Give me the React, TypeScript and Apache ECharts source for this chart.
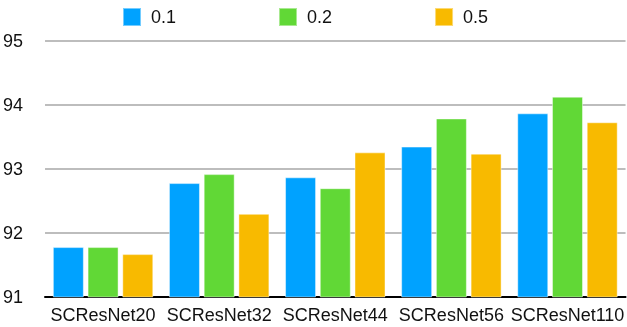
import React, { useEffect, useRef } from "react";
import * as echarts from "echarts";

const categories = ["SCResNet20", "SCResNet32", "SCResNet44", "SCResNet56", "SCResNet110"];
const seriesNames = ["0.1", "0.2", "0.5"];
const values01 = [91.78, 92.78, 92.87, 93.35, 93.87];
const values02 = [91.78, 92.92, 92.70, 93.79, 94.13];
const values05 = [91.67, 92.30, 93.26, 93.24, 93.73];
const colors = ["#00A2FF", "#61D836", "#F8BA00"];
const yMin = 91;
const yMax = 95;
const yInterval = 1;

export default function App() {
  const ref = useRef<HTMLDivElement>(null);
  useEffect(() => {
    if (!ref.current) return;
    const chart = echarts.init(ref.current, null, { renderer: "svg" });
    const data = [values01, values02, values05];
    chart.setOption({
      animation: false,
      textStyle: { fontFamily: "Liberation Sans, Arial, sans-serif" },
      legend: {
        left: 117,
        top: 2,
        itemWidth: 18,
        itemHeight: 18,
        itemGap: 102,
        icon: "rect",
        textStyle: { fontSize: 18, color: "#111", padding: [0, 0, 0, 5] },
        data: seriesNames,
      },
      grid: { left: 42, right: 1, top: 41, bottom: 30, containLabel: false },
      xAxis: {
        type: "category",
        data: categories,
        axisTick: { show: false },
        axisLine: { lineStyle: { color: "#000", width: 2 } },
        axisLabel: { fontSize: 18, color: "#111", margin: 9, interval: 0 },
      },
      yAxis: {
        type: "value",
        min: yMin,
        max: yMax,
        interval: yInterval,
        axisLine: { show: false },
        axisTick: { show: false },
        splitLine: { lineStyle: { color: "#BDBDBD", width: 2 } },
        axisLabel: { fontSize: 18, color: "#111", margin: 22, align: "right" },
      },
      series: seriesNames.map((name, i) => ({
        name,
        type: "bar",
        data: data[i],
        barWidth: 31,
        barGap: "12%",
        itemStyle: {
          color: colors[i],
          borderColor: "rgba(255,255,255,0.45)",
          borderWidth: 1,
        },
      })),
    });
    return () => chart.dispose();
  }, []);
  return (
    <div
      ref={ref}
      style={{ position: "fixed", left: 0, top: 0, width: 627, height: 327 }}
    />
  );
}
